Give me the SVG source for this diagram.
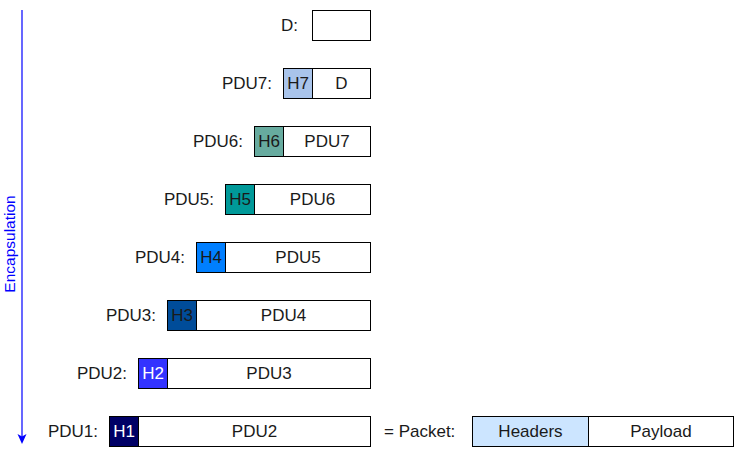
<svg xmlns="http://www.w3.org/2000/svg" width="736" height="459" viewBox="0 0 736 459">
<style>
text{font-family:"Liberation Sans",Arial,sans-serif;font-size:17px;fill:#1a1a1a}
.lbl{text-anchor:end}
.c{text-anchor:middle}
.w{fill:#ffffff}
rect{stroke:#000;stroke-width:1}
.b{fill:#ffffff}
</style>
<g id="connectors">
<line x1="22" y1="10" x2="22" y2="438" stroke="#0000ff" stroke-width="1.2"/>
<path d="M17.5,434 L22,444 L26.5,434 L22,436.5 Z" fill="#0000ff"/>
<text x="0" y="0" transform="translate(15,244) rotate(-90)" class="c" style="fill:#0000ff;font-size:15.5px">Encapsulation</text>
</g>
<g id="d">
<text x="298" y="31" class="lbl">D:</text>
<rect x="312.5" y="10.5" width="58" height="30" class="b"/>
</g>
<g id="pdu7">
<text x="272" y="89" class="lbl">PDU7:</text>
<rect x="283.5" y="68.5" width="29" height="30" fill="#a9c4eb"/>
<rect x="312.5" y="68.5" width="58" height="30" class="b"/>
<text x="298" y="89" class="c">H7</text>
<text x="341.5" y="89" class="c">D</text>
</g>
<g id="pdu6">
<text x="243" y="147" class="lbl">PDU6:</text>
<rect x="254.5" y="126.5" width="29" height="30" fill="#67ab9f"/>
<rect x="283.5" y="126.5" width="87" height="30" class="b"/>
<text x="269" y="147" class="c">H6</text>
<text x="327" y="147" class="c">PDU7</text>
</g>
<g id="pdu5">
<text x="214" y="205" class="lbl">PDU5:</text>
<rect x="225.5" y="184.5" width="29" height="30" fill="#009999"/>
<rect x="254.5" y="184.5" width="116" height="30" class="b"/>
<text x="240" y="205" class="c">H5</text>
<text x="312.5" y="205" class="c">PDU6</text>
</g>
<g id="pdu4">
<text x="185" y="263" class="lbl">PDU4:</text>
<rect x="196.5" y="242.5" width="29" height="30" fill="#007fff"/>
<rect x="225.5" y="242.5" width="145" height="30" class="b"/>
<text x="211" y="263" class="c">H4</text>
<text x="298" y="263" class="c">PDU5</text>
</g>
<g id="pdu3">
<text x="156" y="321" class="lbl">PDU3:</text>
<rect x="167.5" y="300.5" width="29" height="30" fill="#004c99"/>
<rect x="196.5" y="300.5" width="174" height="30" class="b"/>
<text x="182" y="321" class="c">H3</text>
<text x="283.5" y="321" class="c">PDU4</text>
</g>
<g id="pdu2">
<text x="127" y="379" class="lbl">PDU2:</text>
<rect x="138.5" y="358.5" width="29" height="30" fill="#3333ff"/>
<rect x="167.5" y="358.5" width="203" height="30" class="b"/>
<text x="153" y="379" class="c w">H2</text>
<text x="269" y="379" class="c">PDU3</text>
</g>
<g id="pdu1">
<text x="98" y="437" class="lbl">PDU1:</text>
<rect x="109.5" y="416.5" width="29" height="30" fill="#000066"/>
<rect x="138.5" y="416.5" width="232" height="30" class="b"/>
<text x="124" y="437" class="c w">H1</text>
<text x="254.5" y="437" class="c">PDU2</text>
</g>
<g id="packet">
<text x="384" y="437">= Packet:</text>
<rect x="472.5" y="416.5" width="116" height="30" fill="#cce5ff"/>
<rect x="588.5" y="416.5" width="145" height="30" class="b"/>
<text x="530.5" y="437" class="c">Headers</text>
<text x="661" y="437" class="c">Payload</text>
</g>
</svg>
